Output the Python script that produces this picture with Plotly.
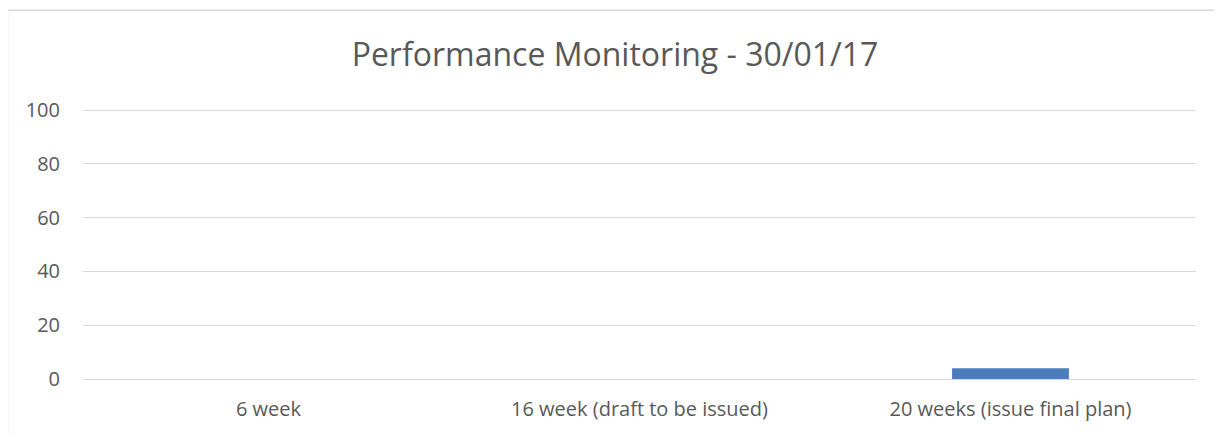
import plotly.graph_objects as go

categories = ["6 week", "16 week (draft to be issued)", "20 weeks (issue final plan)"]
values = [0, 0, 4]
y_ticks = [0, 20, 40, 60, 80, 100]

OFF = 8  # page body margin
W, H = 1222 - OFF, 434 - OFF
L, R, T, B = 83 - OFF, 26, 109 - OFF, 50
pw, ph = W - L - R, H - T - B

def px_to_paper_x(px):
    return (px - OFF - L) / pw

def px_to_paper_y(py):
    return (H - B - (py - OFF)) / ph

fig = go.Figure(go.Bar(x=categories, y=[v if v else None for v in values],
                       marker_color="#4a7ebb", marker_line_width=0, width=0.315))

fig.update_layout(
    width=W, height=H,
    margin=dict(l=L, r=R, t=T, b=B),
    paper_bgcolor="white", plot_bgcolor="white",
    font=dict(family="Open Sans, Liberation Sans, sans-serif", color="#595959", size=20),
    title=dict(text="Performance Monitoring - 30/01/17", x=0.5, xanchor="center",
               y=1 - (55 - OFF) / H, yanchor="middle", font=dict(size=32, color="#595959")),
    showlegend=False,
    bargap=0.685,
)
fig.update_yaxes(range=[0, 100.4], tickvals=y_ticks, showgrid=True, gridcolor="#d9d9d9",
                 gridwidth=1, zeroline=False, showline=False, ticks="", ticklabelstandoff=22)
fig.update_xaxes(showgrid=False, showline=True, linecolor="#d9d9d9", linewidth=1, ticks="",
                 ticklabelstandoff=12)
fig.add_shape(type="rect", xref="paper", yref="paper",
              x0=px_to_paper_x(7.5), x1=px_to_paper_x(1221), y0=px_to_paper_y(445), y1=px_to_paper_y(8.5),
              line=dict(color="#d9d9d9", width=1.5), layer="below")

fig.write_html("out.html")
